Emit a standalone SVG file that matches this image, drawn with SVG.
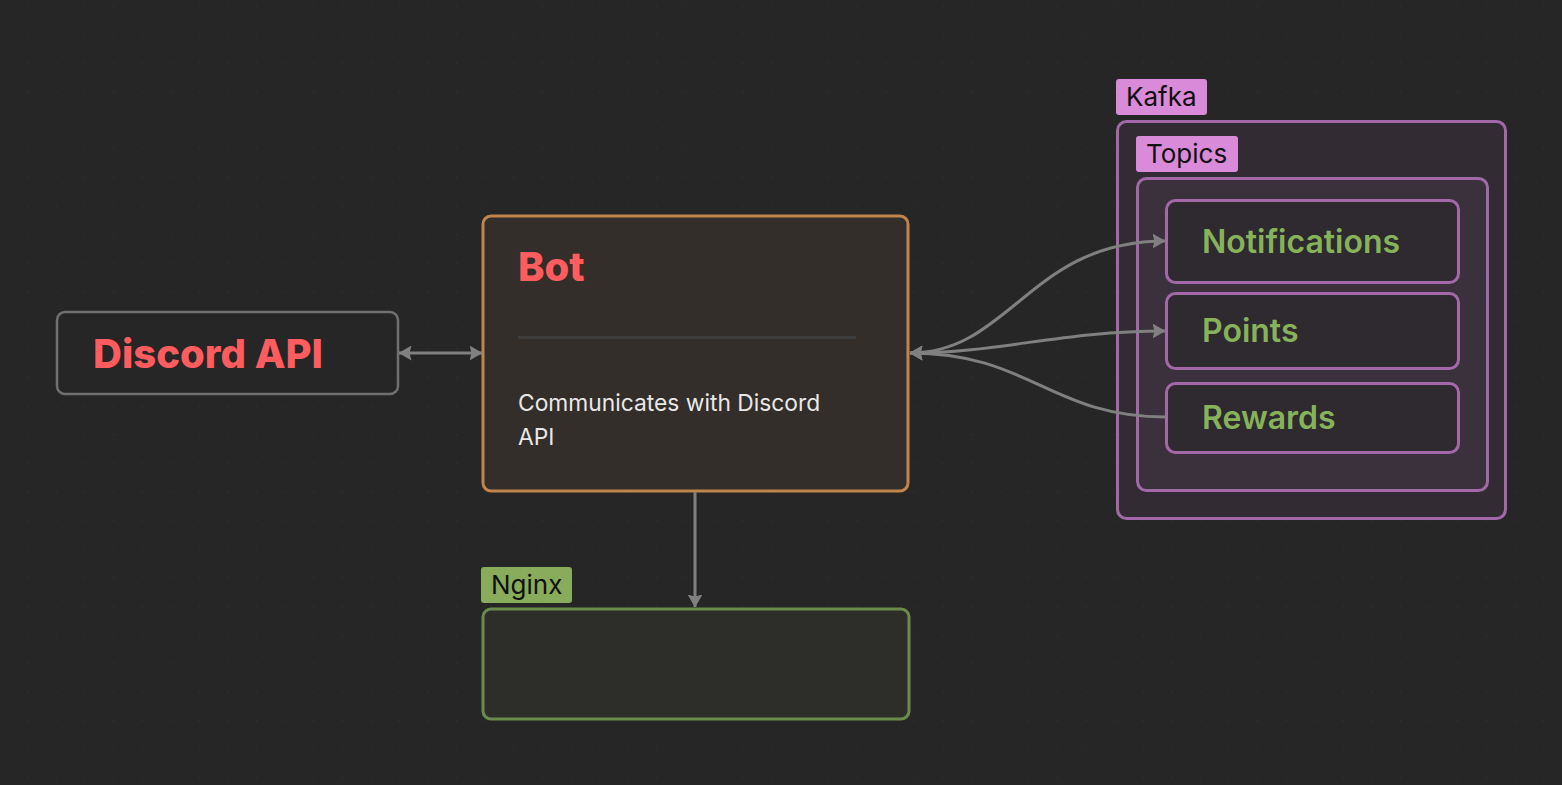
<svg xmlns="http://www.w3.org/2000/svg" width="1562" height="785" viewBox="0 0 1562 785">
<defs>
<pattern id="dots" x="27" y="5" width="28.6" height="28.6" patternUnits="userSpaceOnUse">
<rect x="0" y="0" width="1.4" height="1.4" fill="#2f2f2f"/>
</pattern>
<marker id="ah" viewBox="0 0 13 15" refX="12.5" refY="7.5" markerWidth="13" markerHeight="15" orient="auto-start-reverse" markerUnits="userSpaceOnUse">
<path d="M0,0 L13,7.5 L0,15 L2,7.5 z" fill="#808080"/>
</marker>
<style>
.title{font-family:Inter,"Liberation Sans",sans-serif;font-weight:800;fill:#ff5c5f;font-size:40px}
.topic{font-family:Inter,"Liberation Sans",sans-serif;font-weight:600;fill:#86b35a;font-size:32px}
.lbl{font-family:Inter,"Liberation Sans",sans-serif;fill:#111;font-size:26px}
.body{font-family:Inter,"Liberation Sans",sans-serif;fill:#e8e8e8;font-size:22.8px}
.conn{fill:none;stroke:#808080;stroke-width:3}
.pbox{stroke:#a268a8;stroke-width:3}
</style>
</defs>
<rect width="1562" height="785" fill="#262626"/>
<rect width="1562" height="785" fill="url(#dots)"/>

<g id="kafka">
<rect x="1117.5" y="121.5" width="388" height="397" rx="9" fill="#322b33" class="pbox"/>
<rect x="1116" y="79" width="91" height="36" rx="3" fill="#d98ad8"/>
<text x="1126" y="106" class="lbl">Kafka</text>
</g>
<g id="topics">
<rect x="1137.5" y="178.5" width="350" height="312" rx="9" fill="#3b313c" class="pbox"/>
<rect x="1136" y="136" width="102" height="36" rx="3" fill="#d98ad8"/>
<text x="1146" y="163" class="lbl">Topics</text>
</g>
<g id="notifications">
<rect x="1166.5" y="200.5" width="292" height="82" rx="9" fill="#2f2930" class="pbox"/>
<text x="1202" y="253" class="topic">Notifications</text>
</g>
<g id="points">
<rect x="1166.5" y="293.5" width="292" height="75" rx="9" fill="#2f2930" class="pbox"/>
<text x="1202" y="342" class="topic">Points</text>
</g>
<g id="rewards">
<rect x="1166.5" y="383.5" width="292" height="69" rx="9" fill="#2f2930" class="pbox"/>
<text x="1202" y="429" class="topic">Rewards</text>
</g>

<g id="discord-api">
<rect x="57" y="312" width="341" height="82" rx="8" fill="#262626" stroke="#707070" stroke-width="2.5"/>
<text x="93" y="368" class="title">Discord API</text>
</g>

<g id="bot">
<rect x="483" y="216" width="425" height="275" rx="8" fill="#332e29" stroke="#c0844c" stroke-width="3"/>
<text x="518" y="281" class="title">Bot</text>
<line x1="518" y1="337.5" x2="856" y2="337.5" stroke="#3c3c3c" stroke-width="3"/>
<text x="518" y="411" class="body">Communicates with Discord</text>
<text x="518" y="445" class="body">API</text>
</g>

<g id="nginx">
<rect x="483" y="609" width="426" height="110" rx="8" fill="#2d2e2a" stroke="#6b8b4a" stroke-width="3"/>
<rect x="481" y="567" width="91" height="36" rx="3" fill="#88ac5c"/>
<text x="491" y="594" class="lbl">Nginx</text>
</g>

<g id="connectors">
<path class="conn" d="M399,353 L482,353" marker-start="url(#ah)" marker-end="url(#ah)"/>
<path class="conn" d="M695,492 L695,607" marker-end="url(#ah)"/>
<path class="conn" d="M910,353 C1010,353 1030,241 1165,241" marker-start="url(#ah)" marker-end="url(#ah)"/>
<path class="conn" d="M910,353 C1000,353 1060,331 1165,331" marker-start="url(#ah)" marker-end="url(#ah)"/>
<path class="conn" d="M1166,417 C1050,417 1030,353 910,353" marker-end="url(#ah)"/>
</g>
</svg>
